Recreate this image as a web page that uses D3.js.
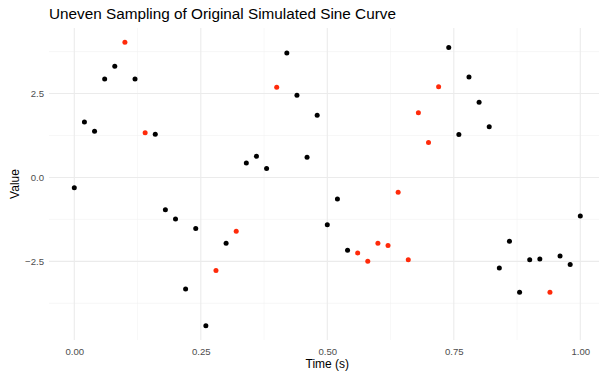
<!DOCTYPE html>
<html>
<head>
<meta charset="utf-8">
<script src="https://cdn.jsdelivr.net/npm/d3@7"></script>
<style>
  body { margin: 0; background: #fff; }
  svg { display: block; font-family: "Liberation Sans", Arial, Helvetica, sans-serif; }
</style>
</head>
<body>
<div id="chart"></div>
<script>
// sampled times (s)
var times = [0.00, 0.02, 0.04, 0.06, 0.08, 0.10, 0.12, 0.14, 0.16, 0.18,
             0.20, 0.22, 0.24, 0.26, 0.28, 0.30, 0.32, 0.34, 0.36, 0.38,
             0.40, 0.42, 0.44, 0.46, 0.48, 0.50, 0.52, 0.54, 0.56, 0.58,
             0.60, 0.62, 0.64, 0.66, 0.68, 0.70, 0.72, 0.74, 0.76, 0.78,
             0.80, 0.82, 0.84, 0.86, 0.88, 0.90, 0.92, 0.94, 0.96, 0.98, 1.00];
// simulated values
var values = [-0.31, 1.65, 1.38, 2.93, 3.31, 4.03, 2.93, 1.33, 1.29, -0.96,
              -1.24, -3.32, -1.52, -4.42, -2.77, -1.96, -1.60, 0.43, 0.63, 0.27,
              2.69, 3.71, 2.45, 0.60, 1.85, -1.41, -0.64, -2.17, -2.25, -2.50,
              -1.96, -2.03, -0.44, -2.45, 1.93, 1.04, 2.70, 3.87, 1.28, 2.99,
              2.24, 1.51, -2.70, -1.90, -3.42, -2.45, -2.43, -3.42, -2.34, -2.59, -1.15];
// 1 = highlighted sample (red)
var picked = [0, 0, 0, 0, 0, 1, 0, 1, 0, 0,
              0, 0, 0, 0, 1, 0, 1, 0, 0, 0,
              1, 0, 0, 0, 0, 0, 0, 0, 1, 1,
              1, 1, 1, 1, 1, 1, 1, 0, 0, 0,
              0, 0, 0, 0, 0, 0, 0, 1, 0, 0, 0];
var xTicks = [0, 0.25, 0.5, 0.75, 1.0];
var xMinor = [0.125, 0.375, 0.625, 0.875];
var yTicks = [-2.5, 0, 2.5];
var yMinor = [-3.75, -1.25, 1.25, 3.75];

var width = 599, height = 374;
var panel = {left: 49, right: 605.6, top: 28, bottom: 340};

var svg = d3.select("#chart").append("svg")
  .attr("width", width)
  .attr("height", height);

// ggplot style 5% expansion
var ext = d3.extent(values), pad = (ext[1] - ext[0]) * 0.05;
var x = d3.scaleLinear().domain([-0.05, 1.05]).range([panel.left, panel.right]);
var y = d3.scaleLinear().domain([ext[0] - pad, ext[1] + pad]).range([panel.bottom, panel.top]);

var grid = svg.append("g");
grid.selectAll(".xminor").data(xMinor).enter().append("line")
  .attr("x1", d => x(d)).attr("x2", d => x(d))
  .attr("y1", panel.top).attr("y2", panel.bottom)
  .attr("stroke", "#f1f1f1").attr("stroke-width", 0.6);
grid.selectAll(".yminor").data(yMinor).enter().append("line")
  .attr("y1", d => y(d)).attr("y2", d => y(d))
  .attr("x1", panel.left).attr("x2", panel.right)
  .attr("stroke", "#f1f1f1").attr("stroke-width", 0.6);
grid.selectAll(".xmajor").data(xTicks).enter().append("line")
  .attr("x1", d => x(d)).attr("x2", d => x(d))
  .attr("y1", panel.top).attr("y2", panel.bottom)
  .attr("stroke", "#ebebeb").attr("stroke-width", 1.1);
grid.selectAll(".ymajor").data(yTicks).enter().append("line")
  .attr("y1", d => y(d)).attr("y2", d => y(d))
  .attr("x1", panel.left).attr("x2", panel.right)
  .attr("stroke", "#ebebeb").attr("stroke-width", 1.1);

// axes (text only, theme_minimal)
var xAxis = svg.append("g")
  .attr("transform", "translate(0," + panel.bottom + ")")
  .call(d3.axisBottom(x).tickValues(xTicks).tickFormat(d3.format(".2f")).tickSize(0).tickPadding(8));
xAxis.select(".domain").remove();
xAxis.selectAll("text").attr("fill", "#4d4d4d").style("font-size", "9.6px");

var yAxis = svg.append("g")
  .attr("transform", "translate(" + panel.left + ",0)")
  .call(d3.axisLeft(y).tickValues(yTicks).tickFormat(d3.format(".1f")).tickSize(0).tickPadding(5));
yAxis.select(".domain").remove();
yAxis.selectAll("text").attr("fill", "#4d4d4d").style("font-size", "9.6px");

// points
svg.selectAll(".pt").data(times).enter().append("circle")
  .attr("cx", d => x(d))
  .attr("cy", (d, i) => y(values[i]))
  .attr("r", 2.5)
  .attr("fill", (d, i) => picked[i] ? "#ff2a0a" : "#000000");

// titles
svg.append("text")
  .attr("x", 49).attr("y", 19)
  .style("font-size", "15.3px")
  .attr("fill", "#000")
  .text("Uneven Sampling of Original Simulated Sine Curve");

svg.append("text")
  .attr("x", (panel.left + panel.right) / 2).attr("y", 368)
  .attr("text-anchor", "middle")
  .style("font-size", "12px")
  .text("Time (s)");

svg.append("text")
  .attr("transform", "translate(19," + (panel.top + panel.bottom) / 2 + ") rotate(-90)")
  .attr("text-anchor", "middle")
  .style("font-size", "12px")
  .text("Value");
</script>
</body>
</html>
